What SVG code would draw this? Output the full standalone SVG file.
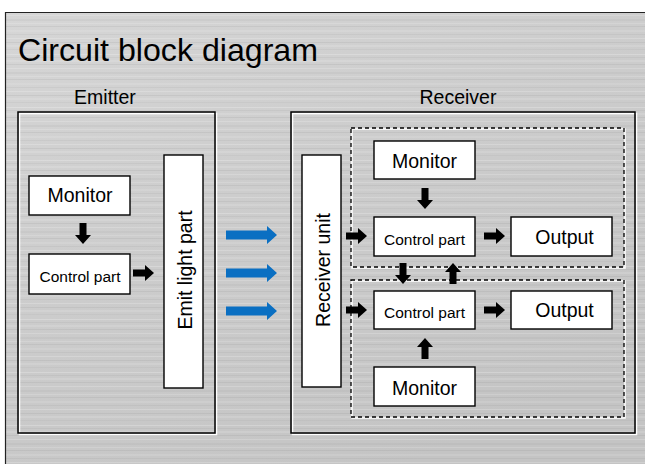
<svg xmlns="http://www.w3.org/2000/svg" width="645" height="464" viewBox="0 0 645 464">
  <defs>
    <linearGradient id="bg" x1="0" y1="0" x2="0.6" y2="1">
      <stop offset="0" stop-color="#d6d6d6"/>
      <stop offset="0.45" stop-color="#cdcdcd"/>
      <stop offset="1" stop-color="#c4c4c4"/>
    </linearGradient>
    <pattern id="streaks" width="645" height="53" patternUnits="userSpaceOnUse">
      <rect x="0" y="1" width="645" height="1" fill="#ffffff" opacity="0.22"/>
      <rect x="0" y="4" width="645" height="1" fill="#000000" opacity="0.04"/>
      <rect x="0" y="7" width="645" height="2" fill="#ffffff" opacity="0.12"/>
      <rect x="0" y="11" width="645" height="1" fill="#000000" opacity="0.05"/>
      <rect x="0" y="15" width="645" height="1" fill="#ffffff" opacity="0.18"/>
      <rect x="0" y="19" width="645" height="2" fill="#000000" opacity="0.03"/>
      <rect x="0" y="23" width="645" height="1" fill="#ffffff" opacity="0.15"/>
      <rect x="0" y="26" width="645" height="1" fill="#000000" opacity="0.05"/>
      <rect x="0" y="30" width="645" height="2" fill="#ffffff" opacity="0.1"/>
      <rect x="0" y="34" width="645" height="1" fill="#000000" opacity="0.04"/>
      <rect x="0" y="38" width="645" height="1" fill="#ffffff" opacity="0.2"/>
      <rect x="0" y="42" width="645" height="1" fill="#000000" opacity="0.05"/>
      <rect x="0" y="45" width="645" height="2" fill="#ffffff" opacity="0.12"/>
      <rect x="0" y="49" width="645" height="1" fill="#000000" opacity="0.03"/>
    </pattern>
    <path id="arr" d="M0,-3.5 H12 V-8 L21,0 L12,8 V3.5 H0 Z"/>
    <path id="blue" d="M0,-4.6 H41 V-9 L51,0 L41,9 V4.6 H0 Z"/>
  </defs>
  <style>
    .lbl { font-family: "Liberation Sans", Arial, sans-serif; fill: #000; }
    .big { font-size: 19.5px; }
    .small { font-size: 15.5px; }
    .node { fill: #ffffff; stroke: #000; stroke-width: 1.4; }
    .frame { fill: none; stroke: #000; stroke-width: 1.5; }
    .hl { fill: none; stroke: #ffffff; stroke-width: 1.5; }
    .dash { fill: none; stroke: #000; stroke-width: 1.3; stroke-dasharray: 4 3; }
    .ba { fill: #000; }
    .bl { fill: #0a6fc2; }
  </style>

  <!-- background -->
  <rect x="0" y="0" width="645" height="464" fill="#ffffff"/>
  <rect x="5" y="12" width="645" height="460" fill="url(#bg)"/>
  <rect x="5" y="12" width="645" height="460" fill="url(#streaks)"/>
  <path d="M5.5,464 V12.5 H645" fill="none" stroke="#222" stroke-width="1.2"/>

  <text class="lbl" x="18" y="61" font-size="32" textLength="300" lengthAdjust="spacingAndGlyphs">Circuit block diagram</text>

  <!-- Emitter -->
  <g id="emitter">
    <rect class="hl" x="19.5" y="113.5" width="197" height="321"/>
    <rect class="frame" x="18" y="112" width="197" height="321"/>
    <text class="lbl big" x="105" y="104" text-anchor="middle">Emitter</text>
  </g>
  <g id="e-monitor">
    <rect class="node" x="29" y="176" width="101" height="39"/>
    <text class="lbl big" x="80" y="202" text-anchor="middle">Monitor</text>
  </g>
  <g id="e-control">
    <rect class="node" x="29" y="254" width="101" height="40"/>
    <text class="lbl small" x="80" y="281.5" text-anchor="middle">Control part</text>
  </g>
  <g id="e-emit">
    <rect class="node" x="164" y="155" width="39" height="233"/>
    <text class="lbl big" transform="translate(192,270) rotate(-90)" text-anchor="middle">Emit light part</text>
  </g>

  <!-- Receiver -->
  <g id="receiver">
    <rect class="hl" x="292.5" y="113.5" width="344" height="321"/>
    <rect class="frame" x="291" y="112" width="344" height="321"/>
    <text class="lbl big" x="458" y="104" text-anchor="middle">Receiver</text>
  </g>
  <g id="group-top">
    <rect class="hl" x="352" y="129" width="273" height="139" stroke-width="1.3"/>
    <rect class="dash" x="351" y="128" width="273" height="139"/>
  </g>
  <g id="group-bottom">
    <rect class="hl" x="352" y="281" width="273" height="137" stroke-width="1.3"/>
    <rect class="dash" x="351" y="280" width="273" height="137"/>
  </g>
  <g id="r-unit">
    <rect class="node" x="302" y="155" width="39" height="232"/>
    <text class="lbl big" transform="translate(330,270) rotate(-90)" text-anchor="middle">Receiver unit</text>
  </g>
  <g id="r-monitor-top">
    <rect class="node" x="374" y="141" width="101" height="38"/>
    <text class="lbl big" x="424.5" y="168" text-anchor="middle">Monitor</text>
  </g>
  <g id="r-control-top">
    <rect class="node" x="374" y="217" width="101" height="39"/>
    <text class="lbl small" x="424.5" y="245" text-anchor="middle">Control part</text>
  </g>
  <g id="r-output-top">
    <rect class="node" x="511" y="217" width="101" height="39"/>
    <text class="lbl big" x="564.5" y="243.5" text-anchor="middle">Output</text>
  </g>
  <g id="r-control-bottom">
    <rect class="node" x="374" y="291" width="101" height="38"/>
    <text class="lbl small" x="424.5" y="318" text-anchor="middle">Control part</text>
  </g>
  <g id="r-output-bottom">
    <rect class="node" x="511" y="291" width="101" height="38"/>
    <text class="lbl big" x="564.5" y="317" text-anchor="middle">Output</text>
  </g>
  <g id="r-monitor-bottom">
    <rect class="node" x="374" y="367" width="101" height="39"/>
    <text class="lbl big" x="424.5" y="395" text-anchor="middle">Monitor</text>
  </g>

  <!-- connectors -->
  <g id="connectors">
    <use href="#arr" class="ba" transform="translate(83,223) rotate(90)"/>
    <use href="#arr" class="ba" transform="translate(133,273)"/>
    <use href="#blue" class="bl" transform="translate(226,235)"/>
    <use href="#blue" class="bl" transform="translate(226,273)"/>
    <use href="#blue" class="bl" transform="translate(226,311)"/>
    <use href="#arr" class="ba" transform="translate(346,236)"/>
    <use href="#arr" class="ba" transform="translate(484,236)"/>
    <use href="#arr" class="ba" transform="translate(425,188) rotate(90)"/>
    <use href="#arr" class="ba" transform="translate(403,263) rotate(90)"/>
    <use href="#arr" class="ba" transform="translate(453,284) rotate(-90)"/>
    <use href="#arr" class="ba" transform="translate(346,310)"/>
    <use href="#arr" class="ba" transform="translate(484,310)"/>
    <use href="#arr" class="ba" transform="translate(425,359) rotate(-90)"/>
  </g>
</svg>
